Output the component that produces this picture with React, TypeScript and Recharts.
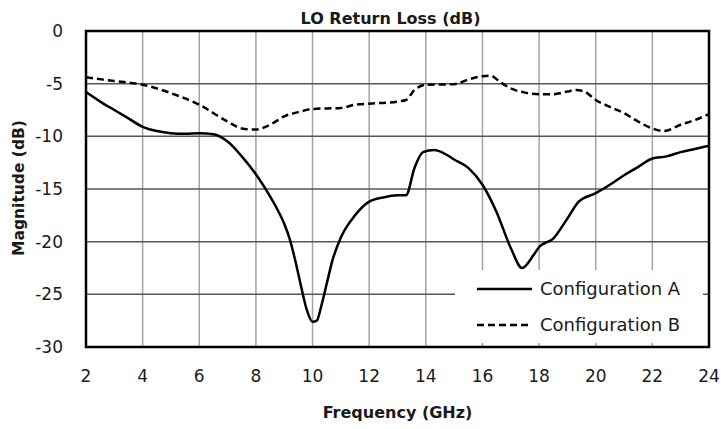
import { CartesianGrid, Legend, Line, LineChart, ReferenceArea, XAxis, YAxis } from "recharts";

// Configuration A sweep (GHz, dB)
const freqA = [
  2, 2.5, 3, 3.5, 4, 4.5, 5, 5.5, 6, 6.5, 7, 7.5, 8, 8.5, 8.75, 9, 9.2, 9.4, 9.6, 9.8, 10,
  10.15, 10.3, 10.5, 10.7, 11, 11.5, 12, 12.5, 13, 13.3, 13.6, 13.9, 14.3, 14.7, 15, 15.5, 16,
  16.5, 17, 17.4, 17.8, 18, 18.5, 19, 19.4, 20, 20.5, 21, 21.5, 22, 22.5, 23, 23.5, 24,
];
const magA = [
  -5.8, -6.7, -7.5, -8.3, -9.1, -9.5, -9.7, -9.75, -9.7, -9.8, -10.5, -11.9, -13.6, -15.7,
  -16.9, -18.3, -19.8, -21.9, -24.3, -26.5, -27.6, -27.5, -26.2, -24.0, -21.8, -19.6, -17.5,
  -16.2, -15.8, -15.6, -15.6, -13.0, -11.5, -11.3, -11.7, -12.2, -13.0, -14.6, -17.2, -20.6,
  -22.5, -21.3, -20.5, -19.7, -17.8, -16.2, -15.4, -14.6, -13.7, -12.9, -12.1, -11.9, -11.5,
  -11.2, -10.9,
];

// Configuration B sweep (GHz, dB)
const freqB = [
  2, 3, 4, 5, 6, 7, 7.5, 8, 8.5, 9, 9.5, 10, 11, 11.5, 12, 13, 13.3, 13.6, 14, 15, 15.5, 16,
  16.3, 16.6, 17, 17.5, 18, 18.5, 19, 19.3, 19.6, 20, 20.5, 21, 21.5, 22, 22.4, 23, 23.5, 24,
];
const magB = [
  -4.4, -4.75, -5.1, -5.9, -7.0, -8.6, -9.25, -9.35, -8.9, -8.1, -7.7, -7.4, -7.3, -7.0, -6.9,
  -6.7, -6.55, -5.6, -5.1, -5.05, -4.6, -4.3, -4.25, -4.8, -5.45, -5.85, -6.0, -6.0, -5.75,
  -5.6, -5.75, -6.55, -7.2, -7.8, -8.6, -9.25, -9.5, -8.9, -8.45, -7.9,
];

const xTicks = [2, 4, 6, 8, 10, 12, 14, 16, 18, 20, 22, 24];
const yTicks = [0, -5, -10, -15, -20, -25, -30];
const seriesNames = ["Configuration A", "Configuration B"];

const dataA = freqA.map((f, i) => ({ f, v: magA[i] }));
const dataB = freqB.map((f, i) => ({ f, v: magB[i] }));

const FONT = "'DejaVu Sans', sans-serif";
const INK = "#1a1a1a";

function LegendBox() {
  return (
    <svg width={248} height={73} style={{ display: "block", background: "#fff" }}>
      {seriesNames.map((name, i) => {
        const y = 19 + i * 36;
        return (
          <g key={name}>
            <line
              x1={22}
              x2={77}
              y1={y}
              y2={y}
              stroke="#000"
              strokeWidth={2.5}
              strokeDasharray={i === 1 ? "7 4" : undefined}
            />
            <text x={85} y={y + 6} fontFamily={FONT} fontSize={18} fill={INK}>
              {name}
            </text>
          </g>
        );
      })}
    </svg>
  );
}

const titleStyle = {
  position: "absolute" as const,
  fontFamily: FONT,
  fontWeight: 700,
  lineHeight: 1,
  color: INK,
  whiteSpace: "nowrap" as const,
};

export default function App() {
  return (
    <div style={{ position: "absolute", left: 0, top: 0, width: 721, height: 429, background: "#fff" }}>
      <div style={{ ...titleStyle, left: 0, width: 781, top: 10.5, textAlign: "center", fontSize: 16 }}>
        LO Return Loss (dB)
      </div>
      <div style={{ ...titleStyle, left: 86, width: 623, top: 404.5, textAlign: "center", fontSize: 16 }}>
        Frequency (GHz)
      </div>
      <div
        style={{
          ...titleStyle,
          left: 19.6,
          top: 188,
          fontSize: 15.5,
          transform: "translate(-50%, -50%) rotate(-90deg)",
        }}
      >
        Magnitude (dB)
      </div>
      <LineChart width={721} height={429} margin={{ top: 31, right: 12, bottom: 0, left: 0 }}>
        <CartesianGrid horizontal={false} stroke="#a3a3a3" strokeWidth={1.5} />
        <CartesianGrid vertical={false} stroke="#575757" strokeWidth={1.5} />
        <XAxis
          type="number"
          dataKey="f"
          domain={[2, 24]}
          ticks={xTicks}
          allowDataOverflow
          axisLine={false}
          tickLine={false}
          tickSize={8}
          tickMargin={15}
          height={82}
          tick={{ fontFamily: FONT, fontSize: 17, fill: INK }}
        />
        <YAxis
          type="number"
          domain={[-30, 0]}
          ticks={yTicks}
          allowDataOverflow
          axisLine={false}
          tickLine={false}
          tickSize={8}
          tickMargin={15}
          width={86}
          tick={{ fontFamily: FONT, fontSize: 17, fill: INK }}
        />
        <ReferenceArea x1={2} x2={24} y1={-30} y2={0} fill="none" stroke="#000" strokeWidth={2.5} ifOverflow="visible" />
        <Line
          data={dataB}
          dataKey="v"
          name={seriesNames[1]}
          type="monotone"
          stroke="#000"
          strokeWidth={2.5}
          strokeDasharray="7 4"
          dot={false}
          activeDot={false}
          isAnimationActive={false}
        />
        <Line
          data={dataA}
          dataKey="v"
          name={seriesNames[0]}
          type="monotone"
          stroke="#000"
          strokeWidth={2.5}
          dot={false}
          activeDot={false}
          isAnimationActive={false}
        />
        <Legend
          layout="horizontal"
          verticalAlign="middle"
          align="center"
          content={() => <LegendBox />}
          wrapperStyle={{ position: "absolute", left: 455, top: 270, width: 248, height: 73 }}
        />
      </LineChart>
    </div>
  );
}
